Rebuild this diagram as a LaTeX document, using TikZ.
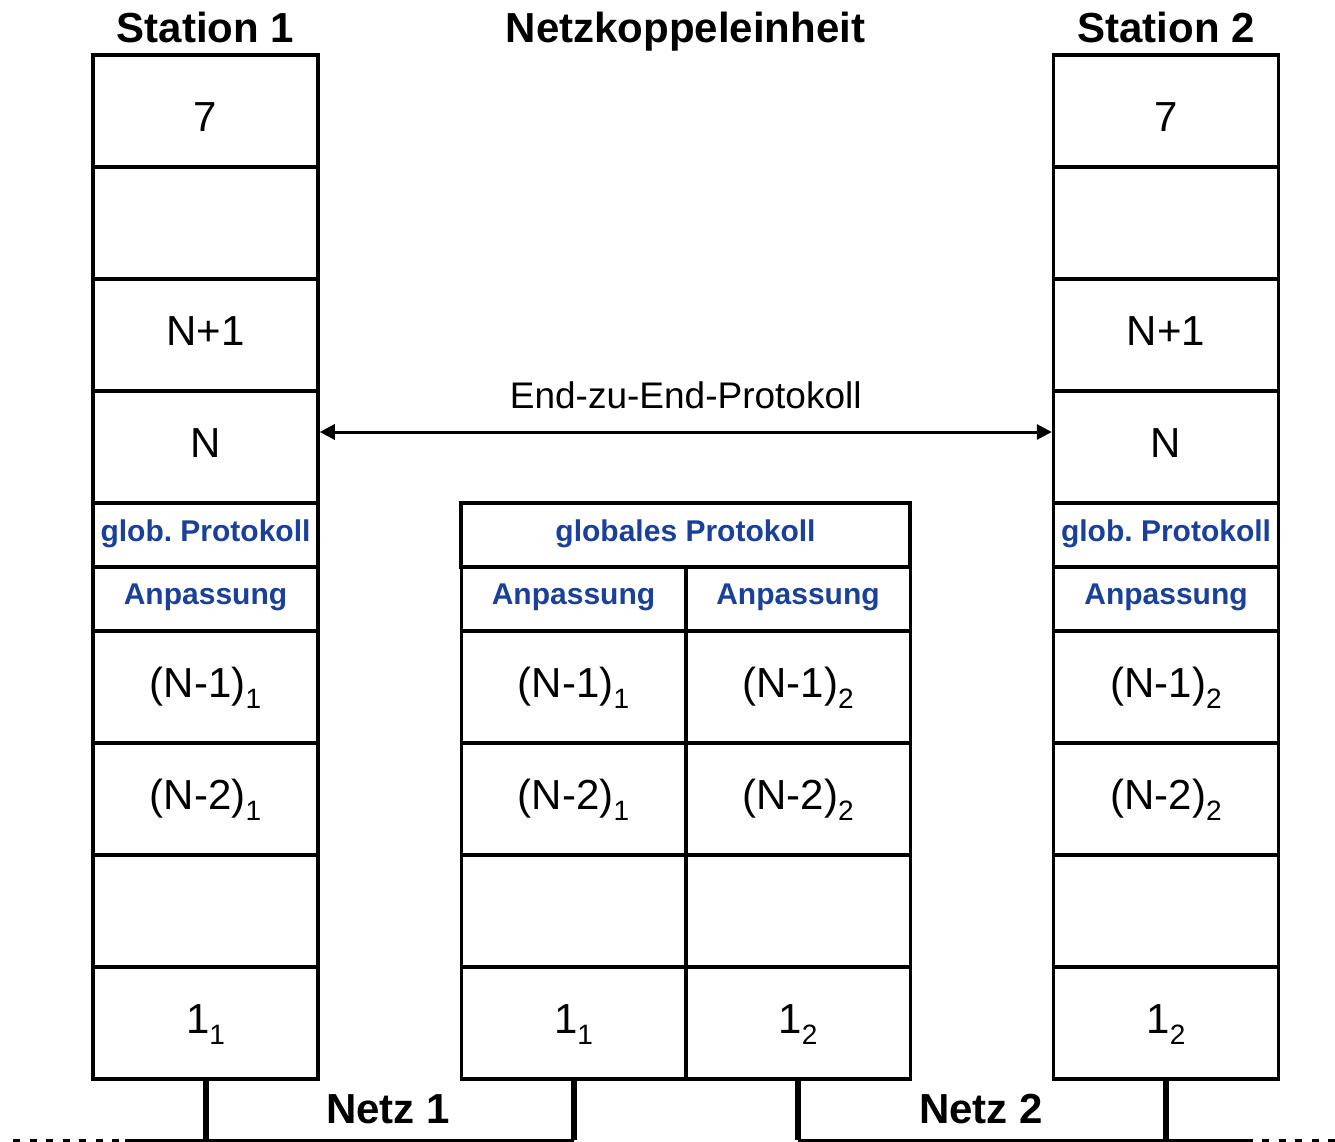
\documentclass[tikz,border=0pt]{standalone}
\usepackage{fontspec}
\setmainfont{Liberation Sans}
\usetikzlibrary{arrows.meta}
\definecolor{protblue}{RGB}{25,65,155}
% lowered, smaller index after a layer name
\newcommand\layidx[1]{\raisebox{-11pt}{\fontsize{28}{28}\selectfont #1}}
\frenchspacing

\begin{document}
\begin{tikzpicture}[x=1pt,y=-1pt,
  cell/.style={draw, line width=3.5pt, inner sep=0pt, minimum height=112pt,
    font=\fontsize{42}{42}\selectfont, text height=20pt, text depth=0pt},
  topcell/.style={cell, text height=42pt},
  bluecell/.style={draw, line width=3.5pt, inner sep=0pt, minimum height=64pt,
    font=\bfseries\fontsize{30}{30}\selectfont, text=protblue},
  globrow/.style={bluecell, text height=22pt, text depth=9pt},
  adaptrow/.style={bluecell, text height=22pt, text depth=12pt},
  wide/.style={minimum width=225pt},
  half/.style={minimum width=224.5pt},
  full/.style={minimum width=449pt},
  title/.style={anchor=base, font=\bfseries\fontsize{42}{42}\selectfont},
  stub/.style={line width=6pt},
  bus/.style={line width=3pt},
  busdash/.style={line width=3pt, dash pattern=on 7pt off 9.5pt},
  e2e/.style={line width=3pt, {Triangle[length=15pt,width=15pt]}-{Triangle[length=15pt,width=15pt]}}
]
\useasboundingbox (0,0) rectangle (1335,1142);

% titles
\node[title] (t1) at (205.5,43) {Station 1};
\node[title] (tk) at (685.5,43) {Netzkoppeleinheit};
\node[title] (t2) at (1166,43) {Station 2};

% station 1
\node[topcell, wide] (a7) at (205.5,111) {7};
\node[cell, wide] (a6) at (205.5,223) {};
\node[cell, wide] (aN1) at (205.5,335) {N+1};
\node[cell, wide] (aN) at (205.5,447) {N};
\node[globrow, wide] (ag) at (205.5,535) {glob. Protokoll};
\node[adaptrow, wide] (aa) at (205.5,599) {Anpassung};
\node[cell, wide] (am1) at (205.5,687) {(N-1)\layidx{1}};
\node[cell, wide] (am2) at (205.5,799) {(N-2)\layidx{1}};
\node[cell, wide] (ae) at (205.5,911) {};
\node[cell, wide] (a1) at (205.5,1023) {1\layidx{1}};

% interconnection unit
\node[globrow, full] (kg) at (685.5,535) {globales Protokoll};
\node[adaptrow, half] (kaL) at (573.5,599) {Anpassung};
\node[adaptrow, half] (kaR) at (798,599) {Anpassung};
\node[cell, half] (km1L) at (573.5,687) {(N-1)\layidx{1}};
\node[cell, half] (km1R) at (798,687) {(N-1)\layidx{2}};
\node[cell, half] (km2L) at (573.5,799) {(N-2)\layidx{1}};
\node[cell, half] (km2R) at (798,799) {(N-2)\layidx{2}};
\node[cell, half] (keL) at (573.5,911) {};
\node[cell, half] (keR) at (798,911) {};
\node[cell, half] (k1L) at (573.5,1023) {1\layidx{1}};
\node[cell, half] (k1R) at (798,1023) {1\layidx{2}};

% station 2
\node[topcell, wide] (b7) at (1166,111) {7};
\node[cell, wide] (b6) at (1166,223) {};
\node[cell, wide] (bN1) at (1166,335) {N+1};
\node[cell, wide] (bN) at (1166,447) {N};
\node[globrow, wide] (bg) at (1166,535) {glob. Protokoll};
\node[adaptrow, wide] (ba) at (1166,599) {Anpassung};
\node[cell, wide] (bm1) at (1166,687) {(N-1)\layidx{2}};
\node[cell, wide] (bm2) at (1166,799) {(N-2)\layidx{2}};
\node[cell, wide] (be) at (1166,911) {};
\node[cell, wide] (b1) at (1166,1023) {1\layidx{2}};

% end-to-end protocol
\draw[e2e] ([yshift=15pt]aN.east) -- ([yshift=15pt]bN.west)
  node[pos=0.5, anchor=base, yshift=24pt, font=\fontsize{37}{37}\selectfont] {End-zu-End-Protokoll};

% networks
\coordinate (n1a) at (13,1140);
\coordinate (n1b) at (125,1140);
\coordinate (n2a) at (1250,1140);
\coordinate (n2b) at (1335,1140);
\draw[busdash] (n1a) -- (n1b);
\draw[bus] (n1b) -- (k1L.south |- n1b);
\draw[bus] (k1R.south |- n2a) -- (n2a);
\draw[busdash, dash phase=-12pt] (n2a) -- (n2b);
\draw[stub] (a1.south) -- (a1.south |- n1b);
\draw[stub] (k1L.south) -- (k1L.south |- n1b);
\draw[stub] (k1R.south) -- (k1R.south |- n2a);
\draw[stub] (b1.south) -- (b1.south |- n2a);
\node[title] (net1) at (388,1123) {Netz 1};
\node[title] (net2) at (981,1123) {Netz 2};
\end{tikzpicture}
\end{document}
